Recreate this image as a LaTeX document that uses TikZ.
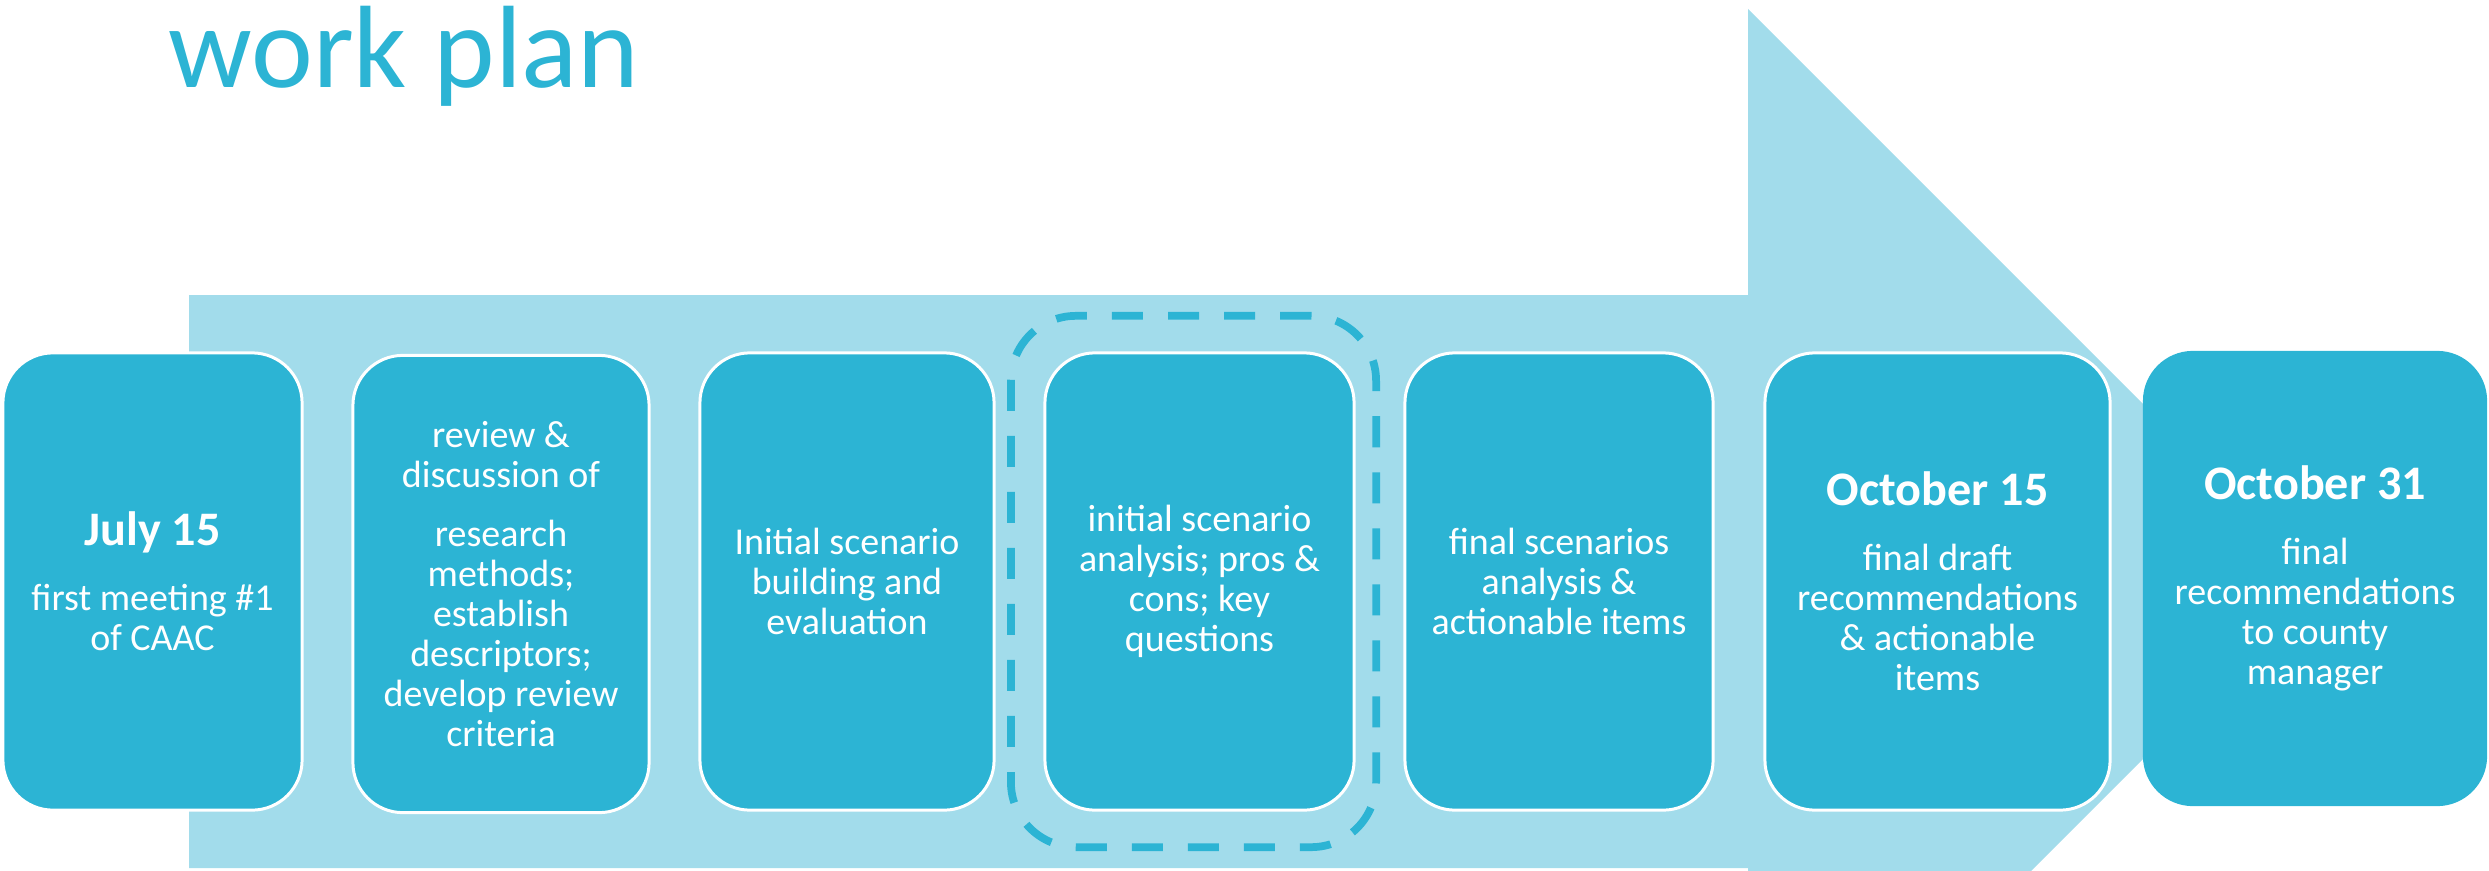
\documentclass[tikz,border=0pt]{standalone}
\usepackage{fontspec}
\setmainfont{Carlito}
\definecolor{boxc}{HTML}{2CB4D4}
\definecolor{arrc}{HTML}{A2DCEB}
\begin{document}
\begin{tikzpicture}[x=0.01cm,y=-0.01cm,
  stepbox/.style={draw=white, line width=0.85pt, fill=boxc, rounded corners=0.5cm,
    text=white, align=center, font=\fontsize{10.8}{11.4}\selectfont, inner sep=0pt,
    minimum height=4.57cm},
  focusbox/.style={draw=boxc, line width=2.2pt, dash pattern=on 0.31cm off 0.25cm,
    rounded corners=0.65cm, minimum width=3.65cm, minimum height=5.31cm, inner sep=0pt}]
\useasboundingbox (0,0) rectangle (2489,870);
\begin{scope}
\clip (0,0) rectangle (2489,870);
\fill[arrc] (189,295) -- (1748,295) -- (1748,9) -- (2320.5,581.5) -- (1748,1154)
  -- (1748,868) -- (189,868) -- cycle;
\end{scope}
\node[anchor=base west, inner sep=0pt, text=boxc, font=\fontsize{33.3}{36}\selectfont] (title) at (168,88) {work plan};
\node[focusbox] (focus) at (1193.5,581.5) {};
\node[stepbox, minimum width=2.99cm] (b1) at (152.5,581.5)
  {{\bfseries\fontsize{13.7}{16}\selectfont July 15}\\[7.1pt]first meeting \#1\\of CAAC};
\node[stepbox, minimum width=2.96cm] (b2) at (501,584)
  {review \&\\discussion of\\[5.4pt]research\\methods;\\establish\\descriptors;\\develop review\\criteria};
\node[stepbox, minimum width=2.94cm] (b3) at (847,581.5)
  {Initial scenario\\building and\\evaluation};
\node[stepbox, minimum width=3.09cm] (b4) at (1199.5,581.5)
  {initial scenario\\analysis; pros \&\\cons; key\\questions};
\node[stepbox, minimum width=3.08cm] (b5) at (1559,581.5)
  {final scenarios\\analysis \&\\actionable items};
\node[stepbox, minimum width=3.45cm] (b6) at (1937.5,581.5)
  {{\bfseries\fontsize{13.7}{16}\selectfont October 15}\\[7.1pt]final draft\\recommendations\\\& actionable\\items};
\node[stepbox, draw=none, minimum width=3.44cm, minimum height=4.55cm] (b7) at (2315,578.5)
  {{\bfseries\fontsize{13.7}{16}\selectfont October 31}\\[7.1pt]final\\recommendations\\to county\\manager};
\end{tikzpicture}
\end{document}
